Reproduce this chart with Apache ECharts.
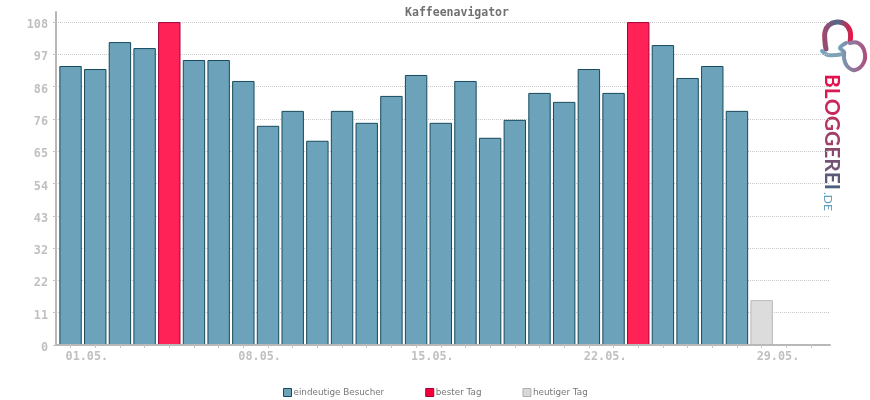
<!DOCTYPE html>
<html>
<head>
<meta charset="utf-8">
<title>Kaffeenavigator</title>
<script src="https://cdn.jsdelivr.net/npm/echarts@6/dist/echarts.min.js"></script>
<style>
    html, body { margin: 0; padding: 0; background: #fff; }
    #chart { width: 870px; height: 400px; }
</style>
</head>
<body>
<div id="chart"></div>
<script>
const days = [1,2,3,4,5,6,7,8,9,10,11,12,13,14,15,16,17,18,19,20,21,22,23,24,25,26,27,28,29,30,31];
const visitors = [93.3,92.3,101.3,99.3,null,95.3,95.3,88.3,73.3,78.3,68.3,78.3,74.3,83.3,90.3,74.3,88.3,69.3,75.3,84.3,81.3,92.3,84.3,null,100.3,89.3,93.3,78.3,null,null,null];
const bestDay = [null,null,null,null,108,null,null,null,null,null,null,null,null,null,null,null,null,null,null,null,null,null,null,108,null,null,null,null,null,null,null];
const today = [null,null,null,null,null,null,null,null,null,null,null,null,null,null,null,null,null,null,null,null,null,null,null,null,null,null,null,null,15,null,null];
const yTicks = [0,10.8,21.6,32.4,43.2,54,64.8,75.6,86.4,97.2,108];
const labelledDays = [1,8,15,22,29];
const legendNames = ['eindeutige Besucher', 'bester Tag', 'heutiger Tag'];

// logo lettering, one colour per letter (top to bottom)
const logoLetters = 'BLOGGEREI'.split('');
const logoColors = ['#e3124f', '#d81a55', '#c9285c', '#b53563', '#9f4069', '#8a4a70', '#735274', '#5c5a79', '#4a607e'];

const mono = '"DejaVu Sans Mono", monospace';
const axisGrey = '#b8b8b8';

function pairs(values) {
    return days.map((d, i) => [d, values[i]]).filter((p) => p[1] !== null);
}

function barSeries(name, values, fill, border) {
    return {
        name: name,
        type: 'bar',
        barWidth: 22.4,
        barGap: '-100%',
        data: pairs(values),
        itemStyle: { color: fill, borderColor: border, borderWidth: 1 }
    };
}

function logoLine(points, colors, width) {
    return {
        type: 'polyline',
        shape: { points: points, smooth: 0.4 },
        style: {
            fill: null,
            lineWidth: width,
            lineCap: 'round',
            stroke: new echarts.graphic.LinearGradient(0, 0, 1, 0, colors.map((c, i) => ({
                offset: i / (colors.length - 1),
                color: c
            })))
        }
    };
}

let logoRich = {};
logoLetters.forEach((l, i) => {
    logoRich['l' + i] = { fill: logoColors[i], font: 'bold 21px Lato, sans-serif' };
});

let chart = echarts.init(document.getElementById('chart'));
let option = {
    animation: false,
    backgroundColor: '#fff',
    title: {
        text: 'Kaffeenavigator',
        left: 452,
        top: 2,
        textAlign: 'center',
        textStyle: { fontFamily: mono, fontSize: 11.5, fontWeight: 'bold', color: '#707070' }
    },
    grid: { left: 56, top: 12, width: 774, height: 333 },
    legend: {
        left: 278,
        top: 383,
        itemWidth: 8,
        itemHeight: 8,
        itemGap: 41,
        icon: 'rect',
        textStyle: { fontFamily: '"DejaVu Sans", sans-serif', fontSize: 8.8, color: '#777', padding: [0, 0, 0, -3] },
        data: [
            { name: legendNames[0], itemStyle: { color: '#6ca3bb', borderColor: '#174a5c', borderWidth: 1 } },
            { name: legendNames[1], itemStyle: { color: '#f5003d', borderColor: '#a3003a', borderWidth: 1 } },
            { name: legendNames[2], itemStyle: { color: '#d8d8d8', borderColor: '#b0b0b0', borderWidth: 1 } }
        ]
    },
    xAxis: {
        type: 'value',
        min: 0.41,
        max: 31.77,
        z: 5,
        axisLine: { show: true, onZero: false, lineStyle: { color: axisGrey, width: 2 } },
        axisTick: { show: true, length: 3, customValues: days, lineStyle: { color: '#c4c4c4' } },
        splitLine: { show: false },
        axisLabel: {
            customValues: labelledDays,
            margin: 6,
            align: 'left',
            padding: [0, 0, 0, -5],
            fontFamily: mono,
            fontSize: 11.8,
            fontWeight: 'bold',
            color: '#c0c0c0',
            formatter: (d) => String(d).padStart(2, '0') + '.05.'
        }
    },
    yAxis: {
        type: 'value',
        min: 0,
        max: 111.36,
        axisLine: { show: true, onZero: false, lineStyle: { color: axisGrey, width: 2 } },
        axisTick: { show: true, length: 3, customValues: yTicks, lineStyle: { color: '#c4c4c4' } },
        splitLine: { show: true, lineStyle: { color: '#c8c8c8', type: 'dotted', width: 1 } },
        axisLabel: {
            customValues: yTicks,
            margin: 8,
            verticalAlign: 'top',
            padding: [-3, 0, 0, 0],
            fontFamily: mono,
            fontSize: 11.8,
            fontWeight: 'bold',
            color: '#c0c0c0',
            formatter: (v) => String(Math.round(v))
        }
    },
    series: [
        barSeries(legendNames[0], visitors, '#6ca3bb', '#174a5c'),
        barSeries(legendNames[1], bestDay, '#ff2257', '#a3003a'),
        barSeries(legendNames[2], today, '#dcdcdc', '#b8b8b8')
    ],
    graphic: [
        {
            type: 'text',
            x: 842,
            y: 74,
            rotation: -Math.PI / 2,
            style: {
                text: logoLetters.map((l, i) => '{l' + i + '|' + l + '}').join(''),
                rich: logoRich
            }
        },
        {
            type: 'text',
            x: 834,
            y: 192,
            rotation: -Math.PI / 2,
            style: { text: '.DE', font: '12px Lato, sans-serif', fill: '#5f9dba' }
        },
        logoLine([[826, 49], [825, 42], [825, 32], [829, 25], [837, 22], [845, 24], [850, 31], [850, 42]], ['#a8436c', '#4f6a8a', '#f5103f'], 5),
        logoLine([[822, 51], [828, 55], [843, 54]], ['#6ea8c0', '#8aa0b0'], 4),
        logoLine([[850, 43], [858, 43], [864, 50], [864, 62], [855, 70], [847, 66], [844, 58], [844, 52], [840, 48], [846, 43]], ['#6ea8c0', '#b04a78'], 4)
    ]
};
chart.setOption(option);
</script>
</body>
</html>
